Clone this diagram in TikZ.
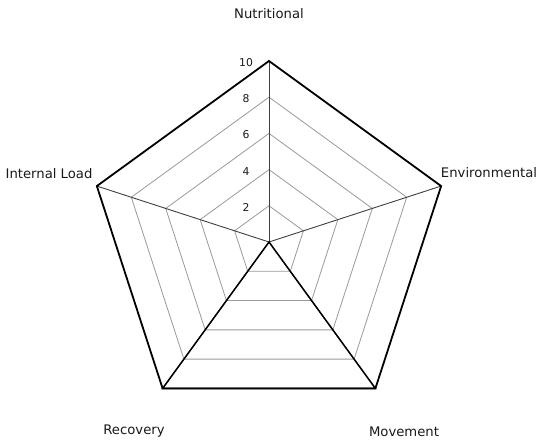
\documentclass[tikz,border=0pt]{standalone}
\usepackage{fontspec}
\setmainfont{DejaVu Sans}
\usetikzlibrary{calc}
\begin{document}
\begin{tikzpicture}[x=1pt,y=1pt,
  gridring/.style={draw=black!40, line width=0.8pt},
  spoke/.style={draw=black!75, line width=0.9pt},
  outer/.style={draw=black, line width=1.8pt, line join=miter},
  datapoly/.style={draw=black, line width=1.5pt, line join=miter},
  axislabel/.style={font=\fontsize{13.2}{15}\selectfont, text=black!90, inner sep=0pt},
  ticklabel/.style={font=\fontsize{10.8}{12}\selectfont, text=black!90, inner sep=0pt}]
\useasboundingbox (0,0) rectangle (537,441);
\coordinate (O) at (269,199);
% rings
\foreach \r in {36.2,72.4,108.6,144.8}{
  \draw[gridring] ($(O)+(90:\r)$) -- ($(O)+(18:\r)$) -- ($(O)+(-54:\r)$) -- ($(O)+(-126:\r)$) -- ($(O)+(162:\r)$) -- cycle;
}
\coordinate (N) at ($(O)+(90:181)$);
\coordinate (E) at ($(O)+(18:181)$);
\coordinate (M) at ($(O)+(-54:181)$);
\coordinate (R) at ($(O)+(-126:181)$);
\coordinate (I) at ($(O)+(162:181)$);
% spokes
\foreach \p in {N,E,M,R,I}{ \draw[spoke] (O) -- (\p); }
% outer
\draw[outer] (N) -- (E) -- (M) -- (R) -- (I) -- cycle;
% data
\draw[datapoly] (O) -- (M) -- (R) -- cycle;
% tick labels
\foreach \k/\v in {1/2,2/4,3/6,4/8,5/10}{
  \node[ticklabel] (t\v) at ($(O)+(-23,36.2*\k-1.5)$) {\v};
}
% axis labels
\node[axislabel] (lN) at (269,427) {Nutritional};
\node[axislabel] (lE) at (489,268) {Environmental};
\node[axislabel] (lI) at (49,267) {Internal Load};
\node[axislabel] (lR) at (134,10) {Recovery};
\node[axislabel] (lM) at (404,9) {Movement};
\end{tikzpicture}
\end{document}
